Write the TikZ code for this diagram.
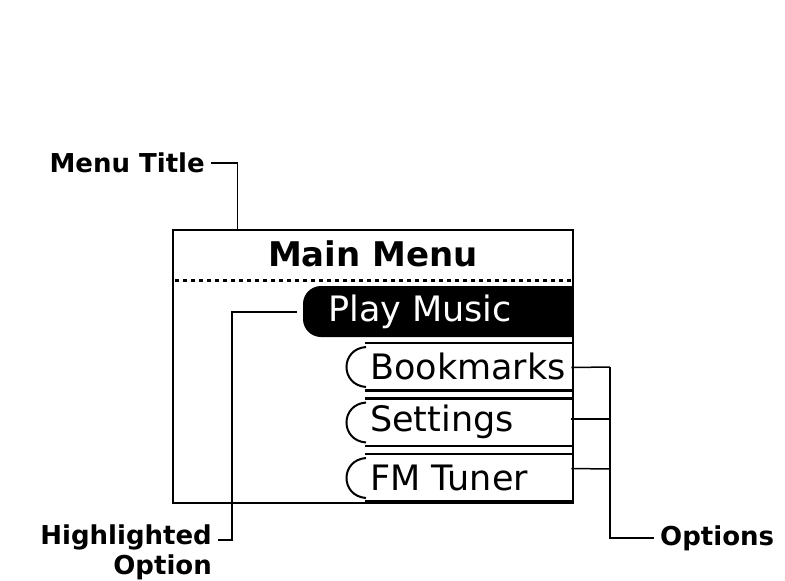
\documentclass[tikz,border=0pt]{standalone}
\usepackage{fontspec}
\setmainfont{DejaVu Sans}
\usepackage{tikz}
\usetikzlibrary{calc}

\tikzset{
	lbl/.style={font=\fontsize{26}{30}\selectfont\bfseries, inner xsep=6pt, inner ysep=0pt},
	lead/.style={line width=1.5pt},
	opt/.style={font=\fontsize{35}{40}\selectfont, inner sep=0pt},
}

\begin{document}
\begin{tikzpicture}[x=1pt,y=-1pt]
	\useasboundingbox (0,0) rectangle (785,581);
	% the screen
	\node[draw, line width=2.8pt, minimum width=400pt, minimum height=273pt, inner sep=0pt] (scr) at (373,366.5) {};
	\node[font=\fontsize{34}{40}\selectfont\bfseries, inner sep=0pt] (ttl) at (373,254) {Main Menu};
	\draw[line width=3pt, dash pattern=on 4pt off 4pt] (175,280) -- (571,280);
	% highlighted row
	\fill (573,286) {[rounded corners=18pt] -- (303,286) -- (303,337)} -- (573,337) -- cycle;
	\node[opt, anchor=west, text=white] (pm) at (328,311.5) {Play Music};
	\coordinate (hitip) at (297,312);
	% other rows
	\foreach \y/\t/\n in {343/Bookmarks/bm, 398.5/Settings/st, 454/FM Tuner/fm}
	{
		\draw[line width=2.5pt] (365,\y) -- (573,\y);
		\draw[line width=2.5pt] (365,\y+47.5) -- (573,\y+47.5);
		\draw[line width=2pt] (366,\y+4) .. controls (340,\y+6) and (340,\y+42) .. (366,\y+44);
		\node[opt, anchor=west] (\n) at (370,\y+23.5) {\t};
	}
	% labels
	\node[lbl, anchor=east] (mt) at (211,163) {Menu Title};
	\node[lbl, anchor=north east, align=right] (hl) at (218,525) {Highlighted\\Option};
	\node[lbl, anchor=west] (opts) at (654,538) {Options};
	\coordinate (obus) at (610,367);
	% leaders
	\draw[lead] (mt.east) -| ([xshift=66pt]scr.north west);
	\draw[lead] (hitip) -| ([xshift=14pt,yshift=-15pt]hl.north east) -- ([yshift=-15pt]hl.north east);
	\draw[lead] (opts.west) -| (obus);
	\draw[lead] ($(scr.east |- bm)+(-3,1)$) -- (obus |- 0,367);
	\draw[lead] ($(scr.east |- st)+(-3,-3)$) -- (obus |- 0,419);
	\draw[lead] ($(scr.east |- fm)+(-3,-9)$) -- (obus |- 0,469);
\end{tikzpicture}
\end{document}
